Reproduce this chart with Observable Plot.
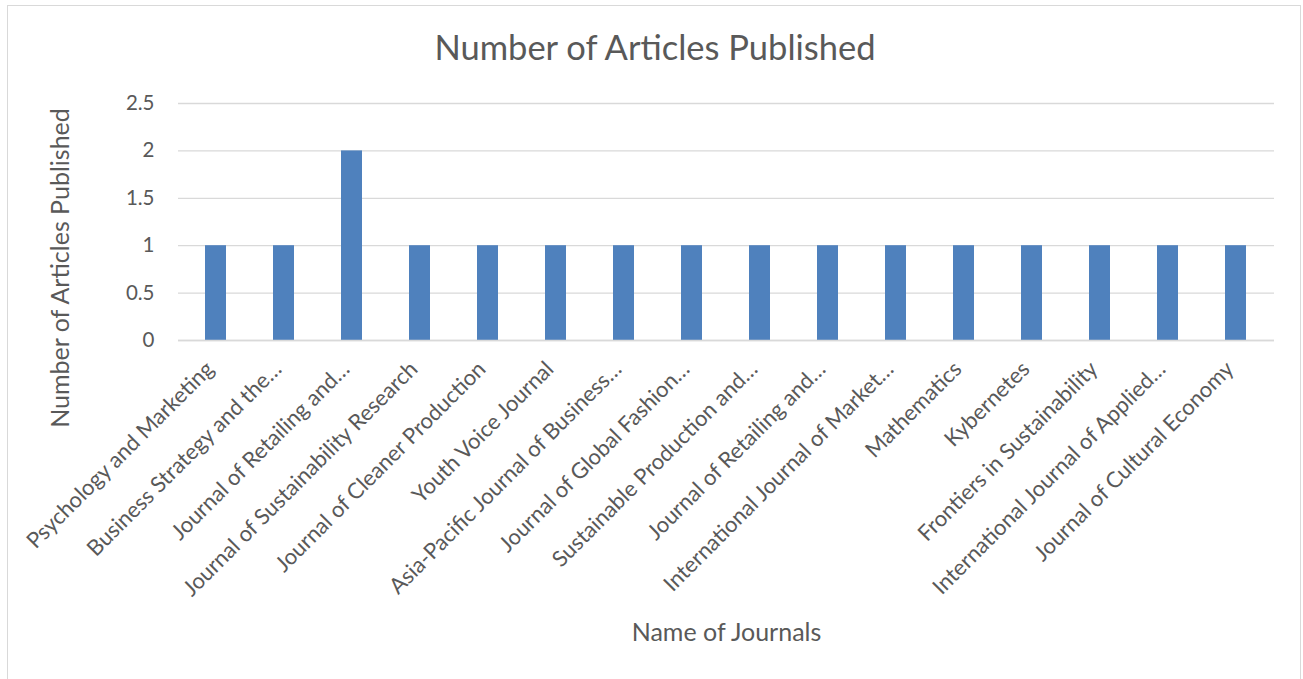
<!DOCTYPE html>
<html>
<head>
<meta charset="utf-8">
<script src="https://cdn.jsdelivr.net/npm/d3@7"></script>
<script src="https://cdn.jsdelivr.net/npm/@observablehq/plot@0.6"></script>
<style>
  html, body { margin: 0; padding: 0; background: #fff; }
  #wrap { position: relative; width: 1303px; height: 679px; overflow: hidden; }
  #border { position: absolute; left: 7px; top: 5px; width: 1294px; height: 700px; border: 1px solid #d9d9d9; box-sizing: border-box; }
  #chart { position: absolute; left: 0; top: 0; }
</style>
</head>
<body>
<div id="wrap"><div id="border"></div><div id="chart"></div></div>
<script>
const journals = [
  "Psychology and Marketing",
  "Business Strategy and the…",
  "Journal of Retailing and…",
  "Journal of Sustainability Research",
  "Journal of Cleaner Production",
  "Youth Voice Journal",
  "Asia-Pacific Journal of Business…",
  "Journal of Global Fashion…",
  "Sustainable Production and…",
  "Journal of Retailing and…",
  "International Journal of Market…",
  "Mathematics",
  "Kybernetes",
  "Frontiers in Sustainability",
  "International Journal of Applied…",
  "Journal of Cultural Economy"
];
const articles = [1, 1, 2, 1, 1, 1, 1, 1, 1, 1, 1, 1, 1, 1, 1, 1];
const yTicks = [0, 0.5, 1, 1.5, 2, 2.5];
const chartTitle = "Number of Articles Published";
const yTitle = "Number of Articles Published";
const xTitle = "Name of Journals";

const data = journals.map((name, i) => ({idx: i, name, value: articles[i]}));
const textColor = "#595959";
const font = "Lato, 'Open Sans', sans-serif";

const plot = Plot.plot({
  width: 1303,
  height: 679,
  marginLeft: 178,
  marginRight: 29,
  marginTop: 103,
  marginBottom: 339,
  style: {fontFamily: font, color: textColor, background: "transparent"},
  x: {domain: d3.range(journals.length), paddingInner: 0.69, paddingOuter: 0.345, align: 0.5},
  y: {domain: [0, 2.5]},
  marks: [
    Plot.gridY(yTicks, {stroke: "#d9d9d9", strokeOpacity: 1, strokeWidth: 1.3}),
    Plot.barY(data, {x: "idx", y: "value", fill: "#4f81bd", inset: 0}),
    Plot.ruleY([0], {stroke: "#d9d9d9", strokeWidth: 1.5}),
    Plot.axisY(yTicks, {tickSize: 0, tickPadding: 24, fontSize: 20.5, label: null, fill: textColor, tickFormat: d => String(d)}),
    Plot.axisX({tickSize: 0, tickRotate: -45, tickPadding: 25, dx: -6, fontSize: 22, label: null, fill: textColor, tickFormat: i => journals[i]}),
    Plot.text([chartTitle], {frameAnchor: "top", lineAnchor: "middle", textAnchor: "middle", dx: -71.5, dy: -55, fontSize: 34.5, fill: textColor, text: d => d}),
    Plot.text([yTitle], {frameAnchor: "left", textAnchor: "middle", lineAnchor: "middle", dx: -118, dy: 46, rotate: -90, fontSize: 25, fill: textColor, text: d => d}),
    Plot.text([xTitle], {frameAnchor: "bottom", textAnchor: "middle", lineAnchor: "middle", dy: 292, fontSize: 25, fill: textColor, text: d => d})
  ]
});
document.getElementById("chart").appendChild(plot);
</script>
</body>
</html>
